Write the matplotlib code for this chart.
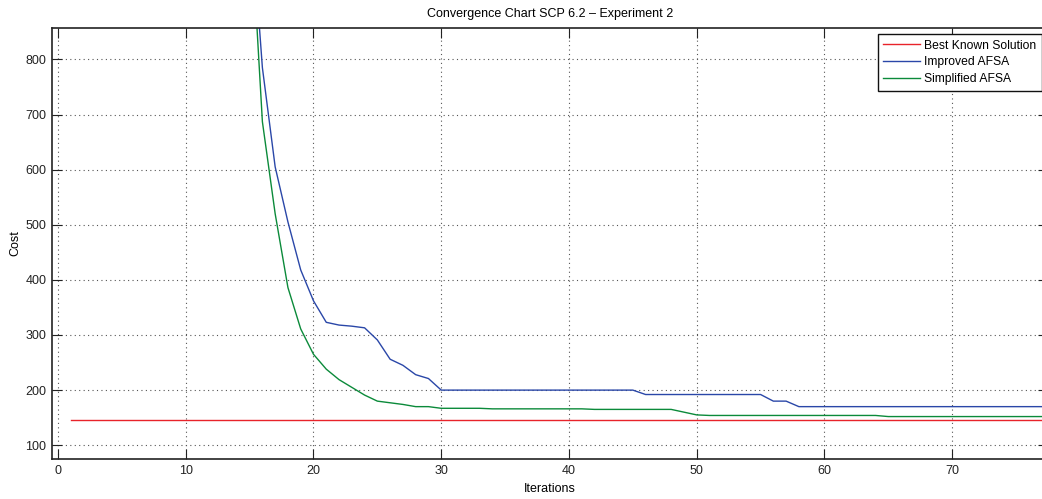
import matplotlib.pyplot as plt

plt.rcParams['font.family'] = ['Liberation Sans', 'DejaVu Sans']

# iteraciones y costos
iter_best = list(range(1, 101))
best_known = [146] * len(iter_best)

iter_improved = list(range(15, 101))
improved = [1100, 785, 605, 505, 418, 362, 323, 318, 316, 313, 291, 256, 245, 228, 221,
            200, 200, 200, 200, 200, 200, 200, 200, 200, 200, 200, 200, 200, 200, 200, 200,
            192, 192, 192, 192, 192, 192, 192, 192, 192, 192, 180, 180, 170] + [170] * 42

iter_simplified = list(range(15, 101))
simplified = [1090, 687, 520, 386, 311, 265, 238, 219, 205, 191, 180, 177, 174, 170, 170,
              167, 167, 167, 167, 166, 166, 166, 166, 166, 166, 166, 166, 165, 165, 165, 165,
              165, 165, 165, 160, 155] + [154] * 14 + [152] * 36

fig = plt.figure(figsize=(10.42, 4.99), dpi=100)
ax = fig.add_axes([52 / 1042, 40 / 499, 996 / 1042, 431 / 499])

ax.plot(iter_best, best_known, color='#e8232a', lw=1.0, label='Best Known Solution')
ax.plot(iter_improved, improved, color='#2a47a8', lw=1.0, label='Improved AFSA')
ax.plot(iter_simplified, simplified, color='#0b8a3a', lw=1.0, label='Simplified AFSA')

ax.set_xlim(-0.47, 77.5)
ax.set_ylim(75, 857)
ax.set_xticks(range(0, 80, 10))
ax.set_yticks(range(100, 900, 100))
ax.grid(True, color='#555555', linestyle=(0, (1, 3)), lw=0.8)
ax.tick_params(direction='in', length=7, width=0.8, top=True, right=True,
               labelsize=9, colors='#222222', pad=4)
for sp in ax.spines.values():
    sp.set_linewidth(1.2)
    sp.set_color('#222222')

ax.set_title('Convergence Chart SCP 6.2 \u2013 Experiment 2', fontsize=9, pad=8)
ax.set_xlabel('Iterations', fontsize=9, labelpad=5)
ax.set_ylabel('Cost', fontsize=9, labelpad=3)

leg = ax.legend(loc='upper right', fontsize=8.75, fancybox=False, framealpha=1,
                edgecolor='#111111', borderaxespad=0.5, handlelength=3.05,
                handletextpad=0.35, labelspacing=0.4, borderpad=0.45)
leg.get_frame().set_linewidth(1.0)

plt.savefig('out.png', dpi=100)
